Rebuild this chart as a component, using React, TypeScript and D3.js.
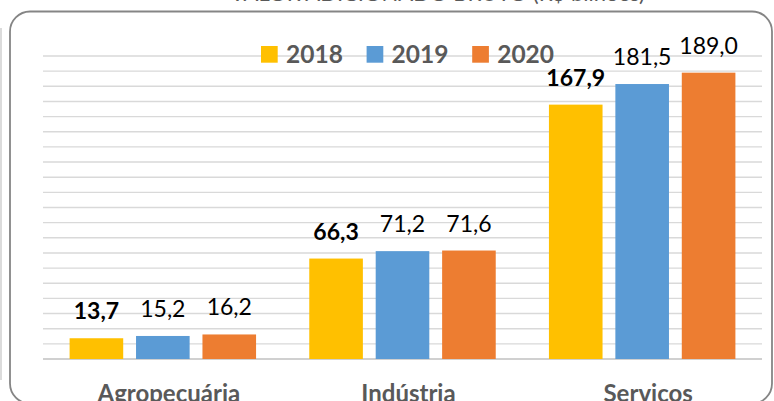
import React from "react";
import * as d3 from "d3";

const categories = ["Agropecuária", "Indústria", "Servicos"];
const years = ["2018", "2019", "2020"];
const values2018 = [13.7, 66.3, 167.9];
const values2019 = [15.2, 71.2, 181.5];
const values2020 = [16.2, 71.6, 189.0];
const seriesColors = ["#FFC000", "#5B9BD5", "#ED7D31"];
const gridTicks = d3.range(0, 201, 10);
const titleText = "VALOR ADICIONADO BRUTO (R$ bilhões)";

const W = 774;
const H = 401;
const FONT = "Lato, 'Noto Sans', sans-serif";

function fmt(v: number) {
  return d3.format(".1f")(v).replace(".", ",");
}

export default function App() {
  const series = [values2018, values2019, values2020];
  const plot = { left: 43, right: 762, top: 56, bottom: 359 };

  const x0 = d3
    .scaleBand<string>()
    .domain(categories)
    .range([plot.left, plot.right])
    .paddingInner(0.222)
    .paddingOuter(0.111);
  const x1 = d3
    .scaleBand<string>()
    .domain(years)
    .range([0, x0.bandwidth()])
    .paddingInner(0.193)
    .paddingOuter(0);
  const y = d3.scaleLinear().domain([0, 200]).range([plot.bottom, plot.top]);

  const legendX0 = 261;
  const legendPitch = 105.6;

  return (
    <svg
      width={W}
      height={H}
      style={{ position: "absolute", left: 0, top: 0, background: "#fff" }}
      fontFamily={FONT}
    >
      <rect x={0} y={0} width={W} height={H} fill="#fff" />
      <text
        x={645}
        y={0.5}
        textAnchor="end"
        fontSize={22}
        fill="#595959"
      >
        {titleText}
      </text>
      <line x1={1} x2={1} y1={28} y2={380} stroke="#cfcfcf" strokeWidth={1.5} />
      <rect
        x={10}
        y={11.5}
        width={762}
        height={392}
        rx={20}
        ry={20}
        fill="#fff"
        stroke="#858585"
        strokeWidth={1.8}
      />
      {gridTicks.map((t) => (
        <line
          key={t}
          x1={plot.left}
          x2={plot.right}
          y1={y(t)}
          y2={y(t)}
          stroke={t === 0 ? "#d0d0d0" : "#d9d9d9"}
          strokeWidth={t === 0 ? 2 : 1.4}
        />
      ))}
      {categories.map((c, ci) => (
        <g key={c} transform={`translate(${x0(c)},0)`}>
          {years.map((yr, si) => {
            const v = series[si][ci];
            const bx = x1(yr)!;
            return (
              <g key={yr}>
                <rect
                  x={bx}
                  y={y(v)}
                  width={x1.bandwidth()}
                  height={y(0) - y(v)}
                  fill={seriesColors[si]}
                />
                <text
                  x={bx + x1.bandwidth() / 2}
                  y={y(v) - 19}
                  textAnchor="middle"
                  fontSize={23}
                  fontWeight={si === 0 ? 700 : 400}
                  fill="#000"
                >
                  {fmt(v)}
                </text>
              </g>
            );
          })}
          <text
            x={x0.bandwidth() / 2 + 6}
            y={402}
            textAnchor="middle"
            fontSize={24}
            fontWeight={700}
            fill="#595959"
          >
            {c}
          </text>
        </g>
      ))}
      {years.map((yr, i) => (
        <g key={yr} transform={`translate(${legendX0 + i * legendPitch},46)`}>
          <rect x={0} y={0} width={16.7} height={16.7} fill={seriesColors[i]} />
          <text x={25} y={17.3} fontSize={24.5} fontWeight={700} fill="#595959">
            {yr}
          </text>
        </g>
      ))}
    </svg>
  );
}
